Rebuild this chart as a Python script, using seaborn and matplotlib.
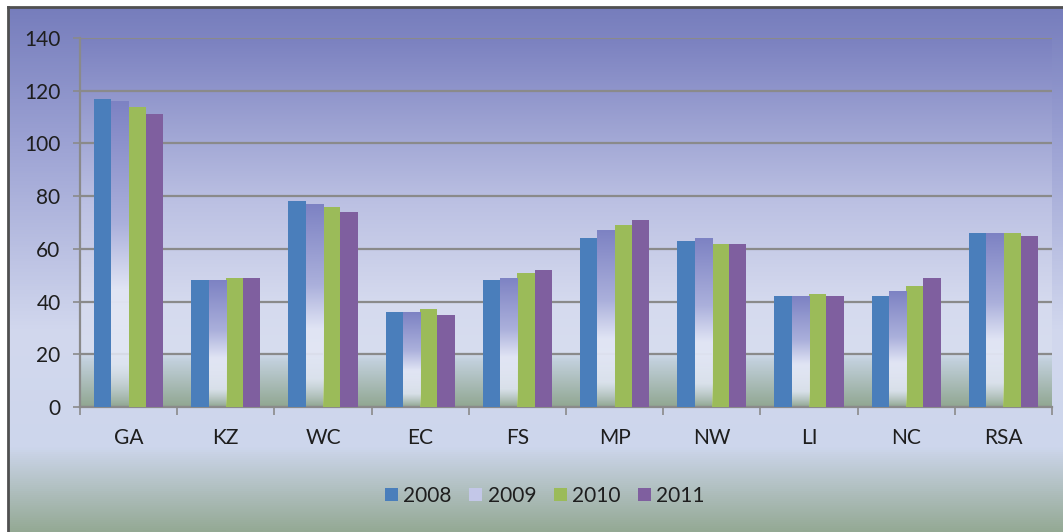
import numpy as np
import pandas as pd
import matplotlib
matplotlib.use("Agg")
import matplotlib.pyplot as plt
import seaborn as sns
from matplotlib.colors import LinearSegmentedColormap, to_rgba
from matplotlib.patches import Patch
from matplotlib.lines import Line2D
from matplotlib.ticker import FixedLocator, MultipleLocator

# ---------------- data ----------------
regions = ["GA", "KZ", "WC", "EC", "FS", "MP", "NW", "LI", "NC", "RSA"]
years = ["2008", "2009", "2010", "2011"]
v2008 = [117, 48, 78, 36, 48, 64, 63, 42, 42, 66]
v2009 = [116, 48, 77, 36, 49, 67, 64, 42, 44, 66]
v2010 = [114, 49, 76, 37, 51, 69, 62, 43, 46, 66]
v2011 = [111, 49, 74, 35, 52, 71, 62, 42, 49, 65]
yticks = [0, 20, 40, 60, 80, 100, 120, 140]

series = {"2008": v2008, "2009": v2009, "2010": v2010, "2011": v2011}
df = pd.DataFrame([
    {"region": r, "year": y, "value": series[y][i]}
    for y in years for i, r in enumerate(regions)
])

colors = {"2008": "#4a7ebb", "2009": "#9aa0d2", "2010": "#9bbb59", "2011": "#7f5f9f"}

plt.rcParams["font.family"] = ["Lato", "DejaVu Sans"]
text_color = "#1e1e1e"

W, H = 1063, 532
fig = plt.figure(figsize=(W / 100, H / 100), dpi=100)
fig.patch.set_facecolor("white")

def vgrad(stops):
    cmap = LinearSegmentedColormap.from_list("g", stops)
    return cmap(np.linspace(0, 1, 512))[:, None, :]

# chart-area background gradient
bg = fig.add_axes([8 / W, 0, (W - 8) / W, (H - 7) / H], zorder=-3)
bg.imshow(vgrad([(0.0, "#767dbc"), (0.25, "#9ba1d3"), (0.62, "#d2d8ee"),
                 (0.84, "#cdd6ec"), (1.0, "#94a994")]),
          aspect="auto", extent=[0, 1, 0, 1])
bg.set_axis_off()

# border lines (top and left)
fig.add_artist(Line2D([8 / W, 1], [1 - 7 / H, 1 - 7 / H], transform=fig.transFigure,
                      color="#505050", lw=2))
fig.add_artist(Line2D([8 / W, 8 / W], [0, 1 - 7 / H], transform=fig.transFigure,
                      color="#505050", lw=2))

pos = [80 / W, 1 - 407 / H, 972 / W, 369 / H]
# plot-area gradient
pa = fig.add_axes(pos, zorder=-2)
pa.imshow(vgrad([(0.0, "#7b81c0"), (0.45, "#bcc1e3"), (0.72, "#d5daee"),
                 (0.85, "#d7ddef"), (0.875, "#c2d0dc"), (1.0, "#91a792")]),
          aspect="auto", extent=[0, 1, 0, 1])
pa.set_axis_off()

ax = fig.add_axes(pos)
ax.patch.set_alpha(0)

sns.barplot(data=df, x="region", y="value", hue="year", hue_order=years,
            order=regions, palette=colors, width=0.71, saturation=1,
            ax=ax, legend=False, zorder=3)

ax.set_xlim(-0.5, len(regions) - 0.5)
ax.set_ylim(0, 140)

# gradient fill for 2009 bars
bar_grad = np.array([
    to_rgba((125 / 255, 130 / 255, 195 / 255), 1.0),
])
stops = [(0.0, (0.49, 0.51, 0.765, 1.0)), (0.4, (0.67, 0.69, 0.86, 1.0)),
         (0.62, (0.885, 0.9, 0.96, 1.0)), (0.86, (0.89, 0.91, 0.96, 0.85)),
         (1.0, (0.89, 0.91, 0.96, 0.0))]
pts = np.linspace(0, 1, 512)
arr = np.zeros((512, 1, 4))
sp = np.array([s[0] for s in stops])
for c in range(4):
    arr[:, 0, c] = np.interp(pts, sp, [s[1][c] for s in stops])
for p in ax.containers[1]:
    x0, y0 = p.get_x(), p.get_y()
    w, h = p.get_width(), p.get_height()
    im = ax.imshow(arr, extent=[x0, x0 + w, y0, y0 + h], aspect="auto",
                   zorder=3.5, interpolation="bilinear")
    im.set_clip_path(p)
    p.set_facecolor("none")
ax.set_xlim(-0.5, len(regions) - 0.5)
ax.set_ylim(0, 140)
ax.set_aspect("auto")

# grid and axes styling
ax.set_yticks(yticks)
ax.yaxis.grid(True, color="#8a8a8a", lw=1.6)
ax.xaxis.grid(False)
ax.set_axisbelow(True)
for s in ["top", "right"]:
    ax.spines[s].set_visible(False)
for s in ["left", "bottom"]:
    ax.spines[s].set_color("#8a8a8a")
    ax.spines[s].set_linewidth(1.6)

ax.tick_params(axis="y", length=5, width=1.2, color="#8a8a8a", pad=9,
               labelsize=15, labelcolor=text_color)
ax.tick_params(axis="x", which="major", length=0, pad=15,
               labelsize=15, labelcolor=text_color)
ax.xaxis.set_minor_locator(FixedLocator(np.arange(-0.5, len(regions), 1.0)))
ax.tick_params(axis="x", which="minor", length=6, width=1.2, color="#8a8a8a")
ax.set_xlabel("")
ax.set_ylabel("")

handles = [Patch(facecolor=colors["2008"]), Patch(facecolor="#c3c7e8"),
           Patch(facecolor=colors["2010"]), Patch(facecolor=colors["2011"])]
fig.legend(handles, years, loc="center", bbox_to_anchor=(545 / W, 1 - 496 / H),
           ncol=4, frameon=False, fontsize=15, handlelength=0.62,
           handleheight=0.62, handletextpad=0.25, columnspacing=0.85,
           labelcolor=text_color)

fig.savefig("out.png", dpi=100)
